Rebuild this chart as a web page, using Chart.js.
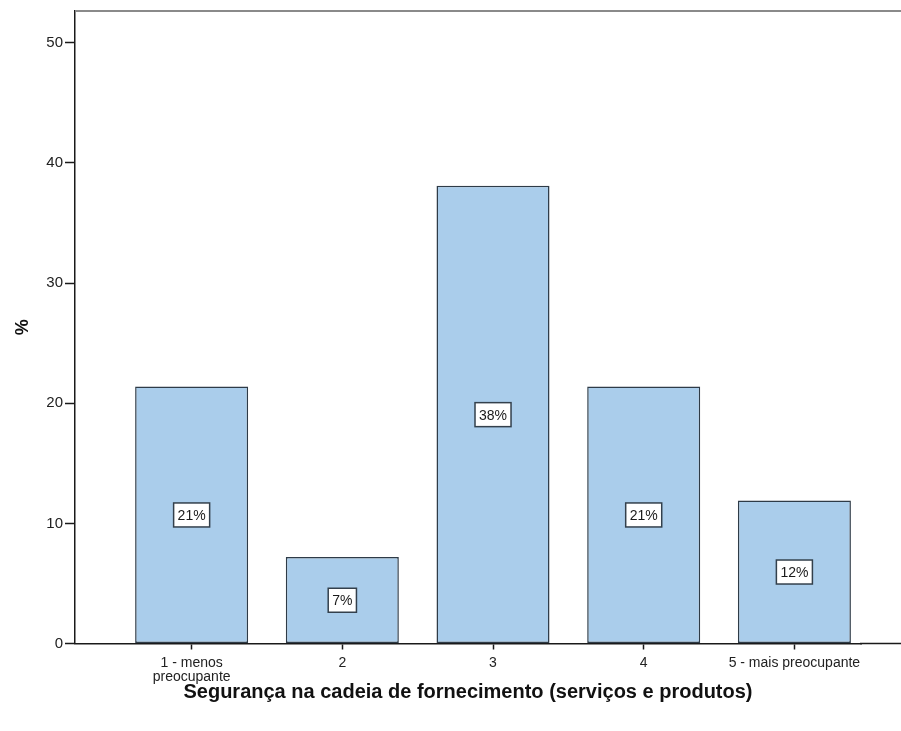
<!DOCTYPE html>
<html>
<head>
<meta charset="utf-8">
<script src="https://cdn.jsdelivr.net/npm/chart.js@4/dist/chart.umd.min.js"></script>
<style>
  html, body { margin: 0; padding: 0; background: #fff; }
  #wrap { width: 901px; height: 731px; position: relative; }
</style>
</head>
<body>
<div id="wrap"><canvas id="c" width="901" height="731"></canvas></div>
<script>
const categories = [["1 - menos", "preocupante"], "2", "3", "4", "5 - mais preocupante"];
const percentValues = [21.4, 7.2, 38.1, 21.4, 11.9];
const yTickValues = [0, 10, 20, 30, 40, 50];
const xTitle = "Segurança na cadeia de fornecimento (serviços e produtos)";
const yTitle = "%";

const FONT = 'Arial, "Liberation Sans", sans-serif';

const barData = percentValues.map((v, i) => ({ x: i + 1, y: v }));

const framePlugin = {
  id: 'frame',
  afterDraw(chart) {
    const ctx = chart.ctx;
    const a = chart.chartArea;
    ctx.save();
    ctx.strokeStyle = '#8a8a8a';
    ctx.lineWidth = 2;
    ctx.beginPath();
    ctx.moveTo(a.left, a.top);
    ctx.lineTo(chart.width, a.top);
    ctx.stroke();
    ctx.strokeStyle = '#1a1a1a';
    ctx.lineWidth = 1.5;
    ctx.beginPath();
    ctx.moveTo(a.right - 1, a.bottom);
    ctx.lineTo(chart.width, a.bottom);
    ctx.stroke();
    ctx.restore();
  }
};

const labelPlugin = {
  id: 'boxLabels',
  afterDatasetsDraw(chart) {
    const ctx = chart.ctx;
    const meta = chart.getDatasetMeta(0);
    const ys = chart.scales.y;
    ctx.save();
    ctx.font = '14px ' + FONT;
    ctx.textAlign = 'center';
    ctx.textBaseline = 'middle';
    meta.data.forEach((bar, i) => {
      const v = percentValues[i];
      const txt = Math.round(v) + '%';
      const cy = ys.getPixelForValue(v / 2);
      const cx = bar.x;
      const w = ctx.measureText(txt).width + 8;
      const h = 24;
      ctx.fillStyle = '#ffffff';
      ctx.fillRect(cx - w / 2, cy - h / 2, w, h);
      ctx.strokeStyle = '#33404c';
      ctx.lineWidth = 1.5;
      ctx.strokeRect(cx - w / 2, cy - h / 2, w, h);
      ctx.fillStyle = '#1a1a1a';
      ctx.fillText(txt, cx, cy + 1);
    });
    ctx.restore();
  }
};

new Chart(document.getElementById('c'), {
  type: 'bar',
  data: {
    datasets: [{
      data: barData,
      backgroundColor: '#aacdeb',
      borderColor: '#2e3b47',
      borderWidth: 1.5,
      borderSkipped: false,
      barPercentage: 0.75,
      categoryPercentage: 1.0
    }]
  },
  options: {
    responsive: false,
    animation: false,
    layout: { padding: { top: 8, right: 40, left: 0, bottom: 0 } },
    plugins: {
      legend: { display: false },
      tooltip: { enabled: false }
    },
    scales: {
      x: {
        type: 'linear',
        offset: false,
        min: 0.226,
        max: 5.442,
        afterBuildTicks: s => { s.ticks = categories.map((c, i) => ({ value: i + 1 })); },
        afterFit: s => { s.height = 87.5; },
        ticks: {
          autoSkip: false,
          maxRotation: 0,
          padding: 6,
          color: '#222',
          font: { family: FONT, size: 14, lineHeight: 1.05 },
          callback: (v) => categories[Math.round(v) - 1]
        },
        grid: { offset: false, drawOnChartArea: false, drawTicks: true, tickLength: 6, tickColor: '#1a1a1a', tickWidth: 1.5 },
        border: { display: true, color: '#1a1a1a', width: 1.5 },
        title: {
          display: true,
          text: xTitle,
          color: '#111',
          font: { family: FONT, size: 20, weight: 'bold' },
          padding: { top: 0, bottom: 27 }
        }
      },
      y: {
        min: 0,
        max: 52.65,
        afterBuildTicks: s => { s.ticks = yTickValues.map(v => ({ value: v })); },
        afterFit: s => { s.width = 75; },
        ticks: {
          padding: 2,
          color: '#222',
          font: { family: FONT, size: 15 }
        },
        grid: { drawOnChartArea: false, drawTicks: true, tickLength: 10, tickColor: '#1a1a1a', tickWidth: 1.5 },
        border: { display: true, color: '#1a1a1a', width: 1.5 },
        title: {
          display: true,
          text: yTitle,
          color: '#111',
          font: { family: FONT, size: 18, weight: 'bold' },
          padding: { top: 12, bottom: 0 }
        }
      }
    }
  },
  plugins: [framePlugin, labelPlugin]
});
</script>
</body>
</html>
